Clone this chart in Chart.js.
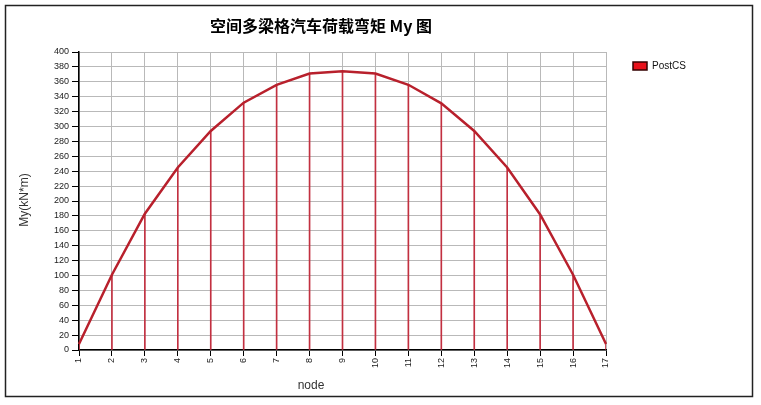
<!DOCTYPE html>
<html>
<head>
<meta charset="utf-8">
<script src="https://cdn.jsdelivr.net/npm/chart.js@4.4.1/dist/chart.umd.min.js"></script>
<style>
  html, body { margin: 0; padding: 0; background: #fff; }
  #wrap { width: 761px; height: 405px; position: relative; }
</style>
</head>
<body>
<div id="wrap"><canvas id="myChart"></canvas></div>
<script>
// ── Data ─────────────────────────────────────────────
const chartTitle = '空间多梁格汽车荷载弯矩 My 图';
const seriesName = 'PostCS';
const nodes = ['1','2','3','4','5','6','7','8','9','10','11','12','13','14','15','16','17'];
const myValues = [8, 101, 183, 245, 294, 332, 356, 371, 374, 371, 356, 331, 294, 245, 182, 101, 8];
const yTitle = 'My(kN*m)';
const xTitle = 'node';

const LINE = '#b8202c';
const GRID = '#b9b9b9';
const FONT = '"Liberation Sans", "DejaVu Sans", sans-serif';

// ── Extras drawn on top (rotated x labels, titles, legend, frame) ──
const extras = {
  id: 'extras',
  afterDraw(chart) {
    const ctx = chart.ctx, xs = chart.scales.x, area = chart.chartArea;
    ctx.save();
    // x tick labels, rotated bottom-to-top
    ctx.fillStyle = '#222';
    ctx.font = '9px ' + FONT;
    ctx.textAlign = 'right';
    ctx.textBaseline = 'middle';
    nodes.forEach((n, i) => {
      const x = xs.getPixelForValue(i);
      ctx.save();
      ctx.translate(x, area.bottom + 8);
      ctx.rotate(-Math.PI / 2);
      ctx.fillText(n, 0, 0);
      ctx.restore();
    });
    // axis titles
    ctx.fillStyle = '#333';
    ctx.font = '12px ' + FONT;
    ctx.textAlign = 'center';
    ctx.fillText(xTitle, 311, 386);
    ctx.save();
    ctx.translate(25, 200);
    ctx.rotate(-Math.PI / 2);
    ctx.fillText(yTitle, 0, 0);
    ctx.restore();
    // chart title
    ctx.fillStyle = '#000';
    ctx.font = 'bold 16px "Noto Sans CJK SC", sans-serif';
    ctx.fillText(chartTitle, 321, 26);
    // legend
    ctx.fillStyle = '#e8101a';
    ctx.fillRect(633, 62, 14, 8);
    ctx.strokeStyle = '#300';
    ctx.lineWidth = 1.5;
    ctx.strokeRect(633, 62, 14, 8);
    ctx.fillStyle = '#111';
    ctx.font = '10px ' + FONT;
    ctx.textAlign = 'left';
    ctx.fillText(seriesName, 652, 66.5);
    // outer frame
    ctx.strokeStyle = '#222';
    ctx.lineWidth = 1.5;
    ctx.strokeRect(5.5, 5.5, 747, 391);
    ctx.restore();
  }
};

new Chart(document.getElementById('myChart'), {
  data: {
    labels: nodes,
    datasets: [
      { type: 'line', label: seriesName, data: myValues, borderColor: LINE, borderWidth: 2.5,
        pointRadius: 0, tension: 0, order: 0 },
      { type: 'bar', label: 'drop', data: myValues, backgroundColor: '#c23040',
        barThickness: 1, order: 1 }
    ]
  },
  options: {
    responsive: true, maintainAspectRatio: false, animation: false,
    layout: { padding: { top: 52, right: 155, bottom: 0, left: 0 } },
    plugins: { legend: { display: false }, title: { display: false }, tooltip: { enabled: false } },
    scales: {
      x: {
        type: 'category', offset: false,
        grid: { color: GRID, offset: false, tickLength: 6, tickColor: '#000' },
        border: { color: '#000', width: 1.5 },
        ticks: { display: false },
        afterFit: s => { s.height = 55; }
      },
      y: {
        min: 0, max: 400,
        grid: { color: GRID, tickLength: 7, tickColor: '#000' },
        border: { color: '#000', width: 1.5 },
        ticks: { stepSize: 20, color: '#222', padding: 3, font: { size: 9, family: FONT } },
        afterFit: s => { s.width = 79; }
      }
    }
  },
  plugins: [extras]
});
</script>
</body>
</html>
